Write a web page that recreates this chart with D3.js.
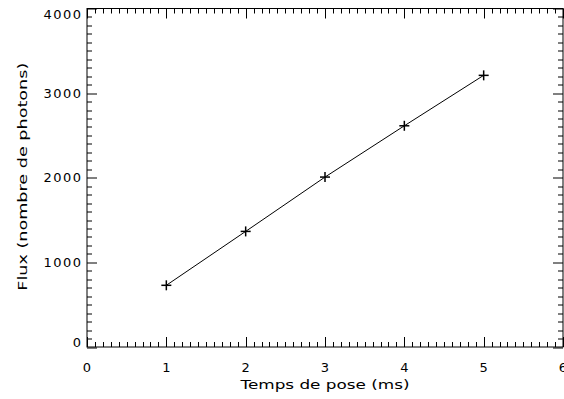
<!DOCTYPE html>
<html>
<head>
<meta charset="utf-8">
<script src="https://cdn.jsdelivr.net/npm/d3@7"></script>
<style>
  body { margin: 0; background: #fff; }
  text { font-family: "DejaVu Sans", sans-serif; font-size: 13px; fill: #000; }
  .num { letter-spacing: 1.5px; }
</style>
</head>
<body>
<div id="chart"></div>
<script>
// exposure time (ms) and flux (photon count)
let exposure = [1, 2, 3, 4, 5];
let flux = [729, 1366, 2008, 2614, 3210];
let xTicks = [0, 1, 2, 3, 4, 5, 6];
let yTicks = [0, 1000, 2000, 3000, 4000];

let width = 564, height = 399;
let margin = {top: 8.5, right: 1, bottom: 52, left: 87};
let w = width - margin.left - margin.right;
let h = height - margin.top - margin.bottom;

let svg = d3.select("#chart").append("svg")
    .attr("width", width)
    .attr("height", height);

let g = svg.append("g")
    .attr("transform", "translate(" + margin.left + "," + margin.top + ")");

let x = d3.scaleLinear().domain([0, 6]).range([0, w]);
let y = d3.scaleLinear().domain([0, 4000]).range([h, 0]);

// frame
g.append("rect")
    .attr("width", w).attr("height", h)
    .attr("fill", "none").attr("stroke", "#000").attr("stroke-width", 1);

// IDL style ticks: pointing inward on all four sides
let xMinor = d3.range(0, 60.5).map(d => d / 10);
let yMinor = d3.range(0, 40.5).map(d => d * 100);

function major(v, list) { return list.some(t => Math.abs(t - v) < 1e-6); }

let ticks = g.append("g").attr("stroke", "#000").attr("stroke-width", 1);
xMinor.forEach(v => {
    let len = major(v, xTicks) ? 10 : 5;
    let px = Math.round(x(v)) + 0.5;
    ticks.append("line").attr("x1", px).attr("x2", px).attr("y1", h).attr("y2", h - len);
    ticks.append("line").attr("x1", px).attr("x2", px).attr("y1", 0).attr("y2", len);
});
yMinor.forEach(v => {
    let len = major(v, yTicks) ? 10 : 5;
    let py = Math.round(y(v)) + 0.5;
    ticks.append("line").attr("y1", py).attr("y2", py).attr("x1", 0).attr("x2", len);
    ticks.append("line").attr("y1", py).attr("y2", py).attr("x1", w).attr("x2", w - len);
});

// tick labels
g.selectAll("text.xlab")
    .data(xTicks)
    .enter().append("text")
    .attr("class", "xlab num")
    .attr("x", d => x(d) + 0.75)
    .attr("y", h + 24.5)
    .attr("text-anchor", "middle")
    .text(d => d);

// end labels are kept inside the frame, like IDL does
g.selectAll("text.ylab")
    .data(yTicks)
    .enter().append("text")
    .attr("class", "ylab num")
    .attr("x", -4.5)
    .attr("y", d => Math.min(Math.max(y(d), 6), h - 5) + 4.5)
    .attr("text-anchor", "end")
    .text(d => d);

// axis titles
svg.append("text")
    .attr("x", margin.left + x(3))
    .attr("y", 389)
    .attr("text-anchor", "middle")
    .attr("textLength", 169)
    .attr("lengthAdjust", "spacingAndGlyphs")
    .text("Temps de pose (ms)");

svg.append("text")
    .attr("transform", "translate(27," + (margin.top + h / 2 - 1) + ") rotate(-90)")
    .attr("text-anchor", "middle")
    .attr("textLength", 228)
    .attr("lengthAdjust", "spacingAndGlyphs")
    .text("Flux (nombre de photons)");

// data line and plus markers
let pts = exposure.map((d, i) => [d, flux[i]]);

g.append("path")
    .datum(pts)
    .attr("fill", "none")
    .attr("stroke", "#000")
    .attr("stroke-width", 1)
    .attr("d", d3.line().x(d => x(d[0])).y(d => y(d[1])));

let plus = g.selectAll("g.pt")
    .data(pts)
    .enter().append("g")
    .attr("class", "pt")
    .attr("transform", d => "translate(" + x(d[0]) + "," + y(d[1]) + ")")
    .attr("stroke", "#000")
    .attr("stroke-width", 1.5);
plus.append("line").attr("x1", -5).attr("x2", 5);
plus.append("line").attr("y1", -5).attr("y2", 5);
</script>
</body>
</html>
